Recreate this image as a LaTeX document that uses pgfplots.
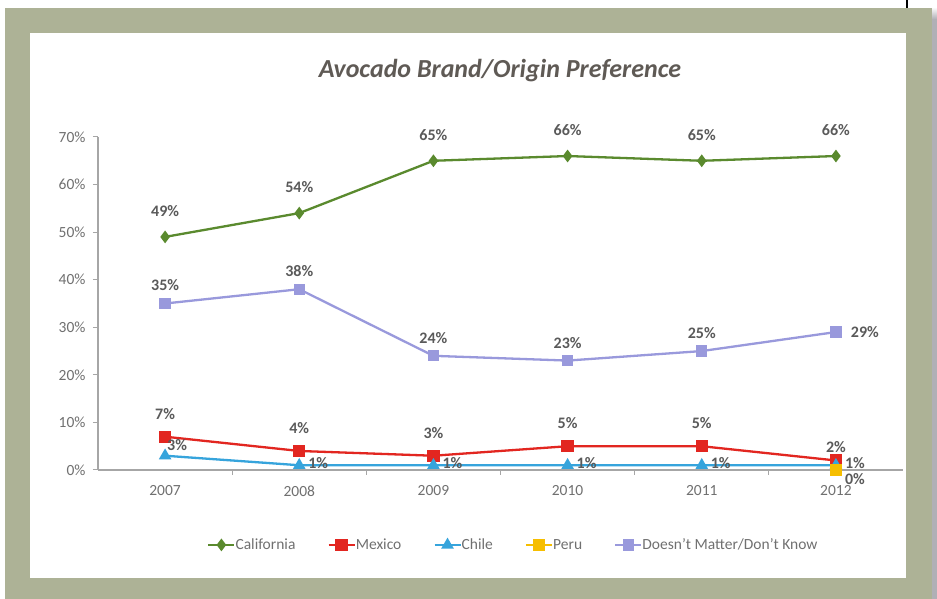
\documentclass[border=0pt]{standalone}
\usepackage{pgfplots}
\pgfplotsset{compat=1.18}
\usepackage{fontspec}
\setmainfont{Carlito}
\definecolor{framec}{RGB}{173,178,150}
\definecolor{shadowc}{RGB}{176,176,182}
\definecolor{titlec}{RGB}{95,90,85}
\definecolor{tickc}{RGB}{112,112,112}
\definecolor{labelc}{RGB}{90,90,90}
\definecolor{axisc}{RGB}{166,166,166}
\definecolor{calc}{RGB}{90,138,46}
\definecolor{mexc}{RGB}{226,38,32}
\definecolor{chic}{RGB}{54,164,220}
\definecolor{peruc}{RGB}{246,190,0}
\definecolor{dmc}{RGB}{153,153,220}
\begin{document}
\begin{tikzpicture}[x=1pt,y=1pt]
\useasboundingbox (0,0) rectangle (937,599);
\fill[white] (0,0) rectangle (937,599);
\fill[shadowc] (932,0) rectangle (937,580);
\shade[top color=white,bottom color=shadowc] (932,580) rectangle (937,592);
\fill[framec] (5,0) rectangle (932,591);
\fill[white] (30,21) rectangle (906,566);
\draw[line width=1.2pt] (907,591) -- (907,599);
\node[font=\bfseries\itshape\fontsize{26}{26}\selectfont, text=titlec] at (500,528) {Avocado Brand/Origin Preference};
\begin{axis}[
  at={(98pt,129pt)}, anchor=south west,
  scale only axis, width=805pt, height=333pt,
  xmin=-0.5, xmax=5.5, ymin=0, ymax=70,
  clip=false,
  axis x line*=bottom, axis y line*=left,
  axis line style={draw=axisc, line width=1.3pt, -},
  tick align=outside, major tick length=5pt, minor tick length=5pt,
  xtick={0,1,2,3,4,5}, xticklabels={2007,2008,2009,2010,2011,2012},
  minor x tick num=1,
  major x tick style={draw=none},
  minor x tick style={draw=axisc, line width=1pt},
  ytick={0,10,20,30,40,50,60,70},
  yticklabels={0\%,10\%,20\%,30\%,40\%,50\%,60\%,70\%},
  y tick style={draw=axisc, line width=1pt},
  tick label style={font=\fontsize{15.5}{16}\selectfont, text=tickc},
  xticklabel style={yshift=-7pt},
  yticklabel style={xshift=-4pt},
  point meta=y,
  nodes near coords={\pgfmathprintnumber[assume math mode=true]{\pgfplotspointmeta}\%},
  every node near coord/.append style={font=\bfseries\fontsize{16}{16}\selectfont, text=labelc, anchor=center, inner sep=0pt},
  legend columns=5,
  legend cell align=left,
  legend style={draw=none, fill=none, at={(0.516,-0.225)}, anchor=center,
    font=\fontsize{15.5}{16}\selectfont, text=tickc,
    /tikz/every even column/.append style={column sep=30pt},
    /tikz/every odd column/.append style={column sep=-2pt}},
  legend image code/.code={\draw[mark repeat=2,mark phase=2] plot coordinates {(0pt,0pt) (13pt,0pt) (26pt,0pt)};},
]
\addplot[calc, line width=2.3pt, mark=diamond*, mark size=4.5pt, mark options={solid},
  every node near coord/.append style={yshift=26pt}]
  coordinates {(0,49) (1,54) (2,65) (3,66) (4,65) (5,66)};
\addlegendentry{California}
\addplot[mexc, line width=2.3pt, mark=square*, mark size=5pt,
  nodes near coords=\empty]
  coordinates {(0,7) (1,4) (2,3) (3,5) (4,5) (5,2)};
\addlegendentry{Mexico}
\addplot[chic, line width=2.3pt, mark=triangle*, mark size=5pt,
  nodes near coords=\empty]
  coordinates {(0,3) (1,1) (2,1) (3,1) (4,1) (5,1)};
\addlegendentry{Chile}
\addplot[peruc, line width=2.3pt, mark=square*, mark size=4.5pt,
  nodes near coords=\empty]
  coordinates {(5,0)};
\addlegendentry{Peru}
\addplot[dmc, line width=2.3pt, mark=square*, mark size=4.5pt,
  nodes near coords=\empty]
  coordinates {(0,35) (1,38) (2,24) (3,23) (4,25) (5,29)};
\addlegendentry{Doesn't Matter/Don't Know}
% data labels
\addplot[forget plot, draw=none, mark=none, every node near coord/.append style={yshift=23pt}]
  coordinates {(0,7) (1,4) (2,3) (3,5) (4,5)};
\addplot[forget plot, draw=none, mark=none, every node near coord/.append style={yshift=13pt}]
  coordinates {(5,2)};
\addplot[forget plot, draw=none, mark=none, every node near coord/.append style={xshift=12pt, yshift=11pt}]
  coordinates {(0,3)};
\addplot[forget plot, draw=none, mark=none, every node near coord/.append style={xshift=19pt, yshift=2pt}]
  coordinates {(1,1) (2,1) (3,1) (4,1) (5,1)};
\addplot[forget plot, draw=none, mark=none, every node near coord/.append style={xshift=19pt, yshift=-9pt}]
  coordinates {(5,0)};
\addplot[forget plot, draw=none, mark=none, every node near coord/.append style={yshift=18pt}]
  coordinates {(0,35) (1,38) (2,24) (3,23) (4,25)};
\addplot[forget plot, draw=none, mark=none, every node near coord/.append style={xshift=29pt}]
  coordinates {(5,29)};
\end{axis}
\end{tikzpicture}
\end{document}
